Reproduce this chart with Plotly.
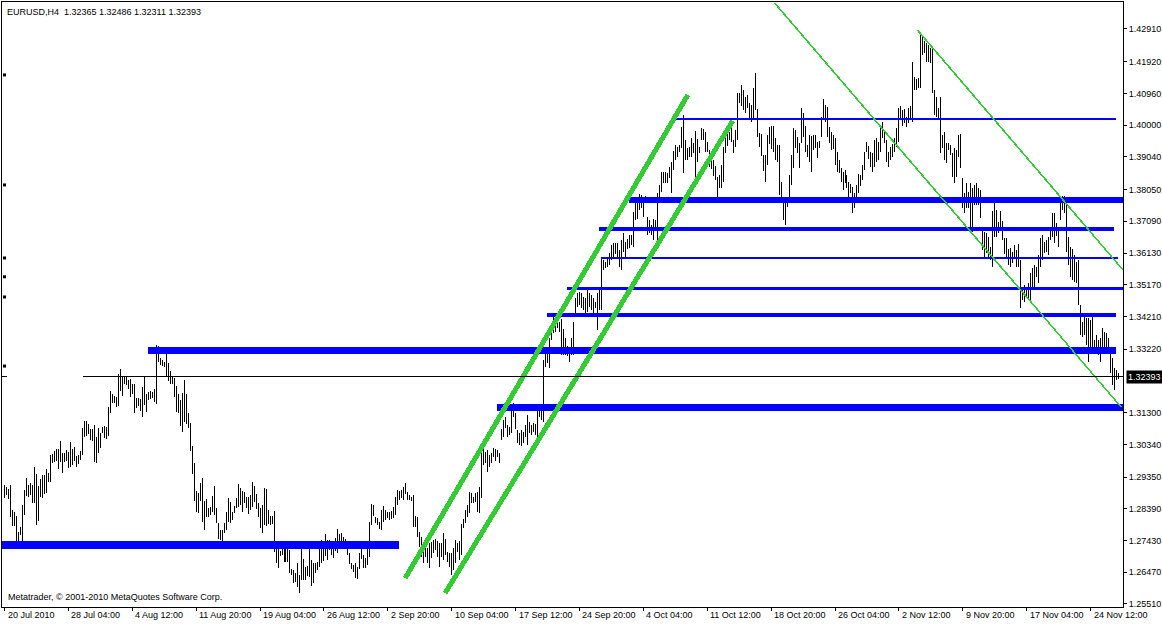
import plotly.graph_objects as go

# ---------------- data (EURUSD, H4 bars: high / low) ----------------
highs = [
    1.2911,1.2905,1.2899,1.2911,1.2835,1.2829,1.2817,1.2769,1.2784,1.2851,
    1.2896,1.2933,1.2911,1.2917,1.2911,1.2966,1.2945,1.2908,1.2930,1.2942,
    1.2942,1.2960,1.2948,1.3002,1.3005,1.3014,1.3020,1.3020,1.3044,1.3008,
    1.3008,1.3017,1.3011,1.3041,1.3020,1.3026,1.2999,1.3002,1.3014,1.3084,
    1.3105,1.3105,1.3096,1.3081,1.3081,1.3093,1.3057,1.3084,1.3069,1.3087,
    1.3090,1.3087,1.3147,1.3196,1.3187,1.3181,1.3178,1.3247,1.3262,1.3241,
    1.3238,1.3238,1.3229,1.3232,1.3217,1.3217,1.3175,1.3175,1.3172,1.3208,
    1.3238,1.3187,1.3193,1.3196,1.3193,1.3202,1.3335,1.3332,1.3296,1.3289,
    1.3283,1.3308,1.3280,1.3256,1.3238,1.3235,1.3211,1.3187,1.3168,1.3190,
    1.3229,1.3187,1.3129,1.3099,1.3029,1.2978,1.2893,1.2887,1.2917,1.2933,
    1.2863,1.2869,1.2841,1.2844,1.2878,1.2908,1.2841,1.2796,1.2775,1.2775,
    1.2796,1.2829,1.2872,1.2860,1.2829,1.2847,1.2872,1.2914,1.2902,1.2893,
    1.2890,1.2875,1.2875,1.2881,1.2920,1.2908,1.2884,1.2857,1.2841,1.2851,
    1.2902,1.2899,1.2835,1.2817,1.2817,1.2832,1.2721,1.2721,1.2711,1.2721,
    1.2724,1.2730,1.2724,1.2714,1.2657,1.2654,1.2645,1.2675,1.2639,1.2717,
    1.2687,1.2663,1.2666,1.2727,1.2684,1.2675,1.2675,1.2678,1.2721,1.2745,
    1.2730,1.2763,1.2745,1.2745,1.2730,1.2739,1.2751,1.2778,1.2763,1.2766,
    1.2754,1.2748,1.2733,1.2705,1.2675,1.2669,1.2675,1.2663,1.2705,1.2742,
    1.2699,1.2690,1.2721,1.2799,1.2854,1.2851,1.2814,1.2811,1.2799,1.2835,
    1.2847,1.2835,1.2829,1.2829,1.2832,1.2844,1.2875,1.2896,1.2893,1.2896,
    1.2905,1.2917,1.2890,1.2881,1.2875,1.2881,1.2817,1.2814,1.2769,1.2754,
    1.2730,1.2721,1.2721,1.2736,1.2739,1.2745,1.2748,1.2742,1.2736,1.2736,
    1.2766,1.2748,1.2708,1.2705,1.2705,1.2721,1.2745,1.2736,1.2742,1.2793,
    1.2808,1.2835,1.2851,1.2890,1.2887,1.2875,1.2887,1.2890,1.2905,1.3023,
    1.3020,1.3011,1.3017,1.3002,1.3008,1.3023,1.3020,1.3017,1.3008,1.3081,
    1.3108,1.3117,1.3093,1.3087,1.3153,1.3159,1.3129,1.3078,1.3069,1.3078,
    1.3072,1.3093,1.3123,1.3102,1.3093,1.3099,1.3096,1.3147,1.3147,1.3138,
    1.3289,1.3311,1.3314,1.3356,1.3395,1.3419,1.3410,1.3416,1.3404,1.3413,
    1.3383,1.3356,1.3332,1.3329,1.3356,1.3404,1.3477,1.3492,1.3495,1.3492,
    1.3480,1.3477,1.3507,1.3492,1.3486,1.3477,1.3465,1.3492,1.3510,1.3598,
    1.3592,1.3586,1.3598,1.3613,1.3637,1.3643,1.3643,1.3643,1.3622,1.3652,
    1.3674,1.3646,1.3655,1.3667,1.3667,1.3737,1.3773,1.3776,1.3792,1.3789,
    1.3783,1.3786,1.3722,1.3713,1.3698,1.3716,1.3713,1.3795,1.3819,1.3858,
    1.3858,1.3858,1.3855,1.3873,1.3889,1.3922,1.3940,1.3934,1.3940,1.3994,
    1.4031,1.3955,1.3931,1.3934,1.3961,1.3946,1.3982,1.3958,1.3934,1.3991,
    1.3988,1.3979,1.3949,1.3925,1.3895,1.3895,1.3876,1.3843,1.3849,1.3879,
    1.3934,1.3964,1.3976,1.3979,1.4001,1.3955,1.3985,1.4097,1.4097,1.4121,
    1.4106,1.4085,1.4091,1.4067,1.4061,1.4112,1.4158,1.4049,1.3976,1.3973,
    1.3910,1.3910,1.3970,1.3994,1.3997,1.3997,1.3961,1.3940,1.3940,1.3828,
    1.3783,1.3780,1.3780,1.3849,1.3910,1.3991,1.3985,1.3964,1.3946,1.4052,
    1.4037,1.3997,1.3940,1.3970,1.3967,1.3970,1.3970,1.3949,1.3952,1.4025,
    1.4079,1.4061,1.4055,1.3994,1.3979,1.3970,1.3961,1.3919,1.3895,1.3870,
    1.3858,1.3864,1.3849,1.3828,1.3822,1.3813,1.3795,1.3819,1.3852,1.3849,
    1.3879,1.3919,1.3949,1.3937,1.3919,1.3916,1.3955,1.3961,1.3949,1.3991,
    1.4010,1.3985,1.3955,1.3919,1.3934,1.3943,1.3961,1.3991,1.4052,1.4058,
    1.4046,1.4049,1.4025,1.4052,1.4058,1.4191,1.4146,1.4140,1.4143,1.4279,
    1.4267,1.4255,1.4249,1.4243,1.4234,1.4237,1.4106,1.4085,1.4052,1.4085,
    1.3970,1.3979,1.3946,1.3946,1.3940,1.3916,1.3931,1.3925,1.3970,1.3973,
    1.3840,1.3795,1.3825,1.3798,1.3825,1.3810,1.3819,1.3825,1.3810,1.3804,
    1.3692,1.3677,1.3674,1.3661,1.3631,1.3740,1.3773,1.3743,1.3707,1.3740,
    1.3710,1.3658,1.3658,1.3625,1.3628,1.3616,1.3637,1.3622,1.3640,1.3592,
    1.3510,1.3516,1.3507,1.3522,1.3553,1.3568,1.3577,1.3571,1.3607,1.3658,
    1.3668,1.3646,1.3652,1.3661,1.3692,1.3734,1.3734,1.3704,1.3692,1.3773,
    1.3786,1.3786,1.3767,1.3661,1.3631,1.3625,1.3607,1.3586,1.3592,1.3456,
    1.3404,1.3419,1.3416,1.3416,1.3410,1.3419,1.3350,1.3365,1.3350,1.3356,
    1.3386,1.3374,1.3371,1.3356,1.3326,1.3296,1.3265,1.3259,1.32486,
]
lows = [
    1.2872,1.2881,1.2869,1.2814,1.2787,1.2787,1.2727,1.2736,1.2760,1.2736,
    1.2820,1.2878,1.2875,1.2881,1.2857,1.2857,1.2790,1.2802,1.2875,1.2872,
    1.2884,1.2887,1.2920,1.2920,1.2978,1.2981,1.2984,1.2960,1.2981,1.2948,
    1.2981,1.2984,1.2963,1.2966,1.2972,1.2984,1.2966,1.2975,1.2987,1.3002,
    1.3057,1.3060,1.3066,1.3047,1.3044,1.2981,1.2978,1.3008,1.3023,1.3069,
    1.3054,1.3050,1.3060,1.3129,1.3159,1.3159,1.3147,1.3150,1.3196,1.3181,
    1.3217,1.3214,1.3202,1.3178,1.3187,1.3129,1.3144,1.3150,1.3135,1.3117,
    1.3153,1.3132,1.3168,1.3172,1.3175,1.3162,1.3156,1.3283,1.3274,1.3271,
    1.3268,1.3238,1.3226,1.3217,1.3217,1.3178,1.3132,1.3129,1.3090,1.3072,
    1.3102,1.3096,1.3084,1.3014,1.2945,1.2863,1.2829,1.2826,1.2863,1.2799,
    1.2775,1.2814,1.2814,1.2820,1.2829,1.2820,1.2796,1.2748,1.2745,1.2730,
    1.2766,1.2775,1.2799,1.2796,1.2805,1.2826,1.2841,1.2844,1.2851,1.2829,
    1.2857,1.2841,1.2823,1.2835,1.2844,1.2860,1.2838,1.2814,1.2781,1.2766,
    1.2790,1.2787,1.2793,1.2790,1.2793,1.2708,1.2675,1.2660,1.2696,1.2699,
    1.2678,1.2678,1.2678,1.2645,1.2639,1.2615,1.2618,1.2603,1.2585,1.2624,
    1.2624,1.2624,1.2636,1.2633,1.2605,1.2615,1.2645,1.2654,1.2663,1.2675,
    1.2681,1.2696,1.2684,1.2714,1.2699,1.2690,1.2711,1.2705,1.2721,1.2717,
    1.2736,1.2717,1.2699,1.2672,1.2657,1.2648,1.2630,1.2627,1.2657,1.2687,
    1.2660,1.2660,1.2669,1.2693,1.2790,1.2817,1.2796,1.2790,1.2778,1.2775,
    1.2799,1.2805,1.2811,1.2805,1.2808,1.2811,1.2820,1.2851,1.2866,1.2872,
    1.2866,1.2884,1.2866,1.2866,1.2863,1.2784,1.2784,1.2754,1.2724,1.2693,
    1.2675,1.2693,1.2675,1.2660,1.2690,1.2705,1.2714,1.2693,1.2663,1.2693,
    1.2684,1.2699,1.2678,1.2663,1.2639,1.2654,1.2675,1.2708,1.2684,1.2699,
    1.2781,1.2796,1.2814,1.2826,1.2857,1.2857,1.2860,1.2829,1.2826,1.2872,
    1.2972,1.2978,1.2951,1.2966,1.2978,1.2996,1.2984,1.2996,1.2978,1.3047,
    1.3057,1.3084,1.3057,1.3063,1.3069,1.3117,1.3081,1.3038,1.3032,1.3029,
    1.3038,1.3057,1.3032,1.3069,1.3063,1.3072,1.3063,1.3057,1.3117,1.3108,
    1.3102,1.3268,1.3280,1.3265,1.3350,1.3371,1.3374,1.3386,1.3374,1.3305,
    1.3305,1.3305,1.3302,1.3283,1.3305,1.3305,1.3422,1.3450,1.3456,1.3447,
    1.3441,1.3419,1.3435,1.3450,1.3441,1.3425,1.3447,1.3380,1.3441,1.3441,
    1.3562,1.3568,1.3571,1.3577,1.3592,1.3601,1.3610,1.3601,1.3571,1.3562,
    1.3616,1.3601,1.3625,1.3628,1.3637,1.3631,1.3713,1.3716,1.3743,1.3749,
    1.3722,1.3765,1.3668,1.3674,1.3668,1.3652,1.3683,1.3643,1.3783,1.3798,
    1.3825,1.3825,1.3825,1.3840,1.3795,1.3864,1.3895,1.3904,1.3919,1.3931,
    1.3855,1.3895,1.3895,1.3904,1.3904,1.3916,1.3843,1.3889,1.3916,1.3955,
    1.3955,1.3919,1.3919,1.3874,1.3867,1.3846,1.3834,1.3783,1.3810,1.3810,
    1.3828,1.3916,1.3937,1.3955,1.3949,1.3916,1.3934,1.3955,1.4067,1.4058,
    1.4046,1.4037,1.4052,1.4022,1.4010,1.4016,1.4046,1.3964,1.3934,1.3907,
    1.3861,1.3828,1.3879,1.3943,1.3928,1.3919,1.3895,1.3889,1.3789,1.3765,
    1.3713,1.3698,1.3752,1.3773,1.3819,1.3870,1.3931,1.3916,1.3870,1.3946,
    1.3964,1.3919,1.3904,1.3889,1.3858,1.3925,1.3931,1.3901,1.3931,1.3964,
    1.4016,1.4010,1.3964,1.3946,1.3925,1.3928,1.3879,1.3858,1.3855,1.3828,
    1.3804,1.3825,1.3810,1.3767,1.3795,1.3734,1.3749,1.3767,1.3795,1.3816,
    1.3834,1.3864,1.3919,1.3898,1.3873,1.3858,1.3873,1.3889,1.3895,1.3919,
    1.3961,1.3946,1.3889,1.3873,1.3895,1.3904,1.3919,1.3934,1.3949,1.4016,
    1.3997,1.4007,1.3994,1.4007,1.4019,1.4010,1.4106,1.4106,1.4112,1.4113,
    1.4212,1.4218,1.4191,1.4191,1.4188,1.4097,1.4031,1.4025,1.4022,1.3916,
    1.3931,1.3895,1.3886,1.3925,1.3910,1.3843,1.3825,1.3843,1.3904,1.3870,
    1.3749,1.3734,1.3749,1.3749,1.3689,1.3677,1.3759,1.3759,1.3759,1.3719,
    1.3622,1.3598,1.3613,1.3601,1.3592,1.3571,1.3661,1.3661,1.3674,1.3689,
    1.3652,1.3610,1.3601,1.3577,1.3571,1.3583,1.3601,1.3571,1.3571,1.3447,
    1.3471,1.3465,1.3480,1.3471,1.3462,1.3510,1.3510,1.3541,1.3522,1.3571,
    1.3592,1.3613,1.3616,1.3607,1.3652,1.3661,1.3643,1.3665,1.3631,1.3713,
    1.3743,1.3734,1.3616,1.3577,1.3541,1.3531,1.3525,1.3522,1.3456,1.3365,
    1.3359,1.3365,1.3335,1.3283,1.3310,1.3320,1.3310,1.3310,1.3305,1.3283,
    1.3326,1.3310,1.3310,1.3320,1.3250,1.3214,1.3199,1.3229,1.32311,
]

time_labels = ["20 Jul 2010", "28 Jul 04:00", "4 Aug 12:00", "11 Aug 20:00",
               "19 Aug 04:00", "26 Aug 12:00", "2 Sep 20:00", "10 Sep 04:00",
               "17 Sep 12:00", "24 Sep 20:00", "4 Oct 04:00", "11 Oct 12:00",
               "18 Oct 20:00", "26 Oct 04:00", "2 Nov 12:00", "9 Nov 20:00",
               "17 Nov 04:00", "24 Nov 12:00"]
bars_per_label = 32

price_ticks = [1.42910, 1.41920, 1.40960, 1.40000, 1.39040, 1.38050, 1.37090,
               1.36130, 1.35170, 1.34210, 1.33220, 1.31300, 1.30340,
               1.29350, 1.28390, 1.27430, 1.26470, 1.25510]

last_open, last_high, last_low, last_close = 1.32365, 1.32486, 1.32311, 1.32393

# horizontal support / resistance levels (price, first bar, last bar)
level_price = [1.27295, 1.33166, 1.31471, 1.34255, 1.35042, 1.35980, 1.36857, 1.37735, 1.40186]
level_start = [-1.25, 71.75, 246.75, 271.75, 281.75, 298.75, 297.75, 312.75, 333.75]
level_end   = [197.75, 556.75, 560.25, 556.75, 560.25, 557.75, 555.75, 560.25, 556.75]
level_width = [8, 7, 7, 4, 3, 2, 4, 6, 2]

# trend lines (bar0, price0, bar1, price1)
trend_thick = [(200.75, 1.26297, 342.25, 1.40912),
               (220.75, 1.25843, 364.75, 1.40126)]
trend_thin = [(385.75, 1.43696, 559.25, 1.31471),
              (457.25, 1.42879, 560.25, 1.35617)]

# small markers on the left edge
edge_marks = [1.4152, 1.3819, 1.3598, 1.3541, 1.3480, 1.3271]

# ---------------- figure ----------------
FONT = "Liberation Sans, Arial, sans-serif"
n = len(highs)
bx, by = [], []
for i in range(n):
    bx += [i, i, None]
    by += [lows[i], highs[i], None]

fig = go.Figure()
fig.add_trace(go.Scatter(x=bx, y=by, mode="lines",
                         line=dict(color="black", width=1),
                         hoverinfo="skip", showlegend=False))

fig.add_trace(go.Scatter(x=[0] * len(edge_marks), y=edge_marks, mode="markers",
                         marker=dict(symbol="square", size=3, color="black"),
                         hoverinfo="skip", showlegend=False))

XMIN, XMAX = -1.25, 560.25
shapes = []
for p, s, e, w in zip(level_price, level_start, level_end, level_width):
    shapes.append(dict(type="line", xref="x", yref="y", x0=s, x1=e, y0=p, y1=p,
                       line=dict(color="#0000FF", width=w)))
for x0, y0, x1, y1 in trend_thick:
    shapes.append(dict(type="line", xref="x", yref="y", x0=x0, y0=y0, x1=x1, y1=y1,
                       line=dict(color="#32CD32", width=5)))
for x0, y0, x1, y1 in trend_thin:
    shapes.append(dict(type="line", xref="x", yref="y", x0=x0, y0=y0, x1=x1, y1=y1,
                       line=dict(color="#32CD32", width=1.6)))
# bid line
shapes.append(dict(type="line", xref="x", yref="y", x0=39.25, x1=XMAX,
                   y0=last_close, y1=last_close, line=dict(color="black", width=1)))
shapes.append(dict(type="line", xref="x", yref="y", x0=XMIN, x1=1.5,
                   y0=last_close, y1=last_close, line=dict(color="black", width=1)))

annotations = []
for k, lab in enumerate(time_labels):
    annotations.append(dict(x=k * bars_per_label, xref="x", y=0, yref="paper",
                            text=lab, showarrow=False, xanchor="left", yanchor="top",
                            xshift=1, yshift=-1, font=dict(family=FONT, size=9, color="black")))
annotations.append(dict(x=0, xref="paper", y=1, yref="paper",
                        text="EURUSD,H4\u00a0 %.5f %.5f %.5f %.5f" % (last_open, last_high, last_low, last_close),
                        showarrow=False, xanchor="left", yanchor="top", xshift=3, yshift=-3,
                        font=dict(family=FONT, size=9, color="black")))
annotations.append(dict(x=0, xref="paper", y=0, yref="paper",
                        text="Metatrader, \u00a9 2001-2010 MetaQuotes Software Corp.",
                        showarrow=False, xanchor="left", yanchor="bottom", xshift=4, yshift=3,
                        font=dict(family=FONT, size=9, color="black")))
annotations.append(dict(x=1, xref="paper", y=last_close, yref="y",
                        text="%.5f" % last_close, showarrow=False, xanchor="left",
                        yanchor="middle", xshift=3, bgcolor="black", borderpad=1,
                        font=dict(family=FONT, size=9, color="white")))

fig.update_layout(
    width=1162, height=624,
    margin=dict(l=1, r=38, t=2, b=17, pad=0),
    paper_bgcolor="white", plot_bgcolor="white",
    showlegend=False,
    shapes=shapes, annotations=annotations,
    xaxis=dict(range=[XMIN, XMAX], showgrid=False, zeroline=False,
               showline=True, mirror=True, linecolor="black", linewidth=1,
               ticks="outside", ticklen=3, tickcolor="black",
               tickvals=[k * bars_per_label for k in range(len(time_labels))],
               showticklabels=False),
    yaxis=dict(range=[1.25419, 1.43726], side="right", showgrid=False, zeroline=False,
               showline=True, mirror=True, linecolor="black", linewidth=1,
               ticks="outside", ticklen=3, tickcolor="black",
               tickvals=price_ticks, ticktext=["%.5f" % v for v in price_ticks],
               tickfont=dict(family=FONT, size=9, color="black")),
)

crisp_js = (
    "document.body.style.margin='0';"
    "function __crisp(){document.querySelectorAll('.scatterlayer path.js-line, .shapelayer path')"
    ".forEach(function(p){p.style.shapeRendering='crispEdges';});}"
    "__crisp(); setTimeout(__crisp, 30);"
)
fig.write_html("out.html", config={"displayModeBar": False}, post_script=crisp_js)
